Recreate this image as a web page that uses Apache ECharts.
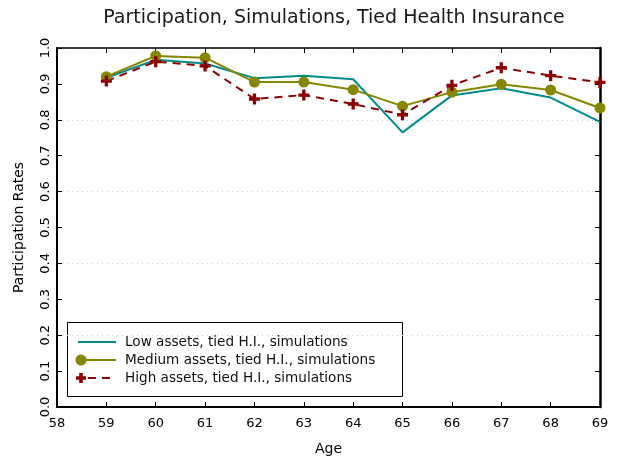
<!DOCTYPE html>
<html><head><meta charset="utf-8">
<script src="https://cdn.jsdelivr.net/npm/echarts@6/dist/echarts.min.js"></script>
<style>html,body{margin:0;padding:0;background:#fff}#c{width:618px;height:461px}</style>
</head><body><div id="c"></div>
<script>
var ages = [59,60,61,62,63,64,65,66,67,68,69];
var lowAssets = [0.917,0.967,0.957,0.916,0.923,0.913,0.765,0.868,0.888,0.862,0.794];
var mediumAssets = [0.920,0.978,0.973,0.905,0.905,0.884,0.838,0.877,0.899,0.883,0.833];
var highAssets = [0.908,0.962,0.950,0.858,0.869,0.844,0.814,0.896,0.945,0.923,0.904];
var seriesNames = ['Low assets, tied H.I., simulations','Medium assets, tied H.I., simulations','High assets, tied H.I., simulations'];
var titleText = 'Participation, Simulations, Tied Health Insurance';
var xName = 'Age', yName = 'Participation Rates';

function pairs(v){ return ages.map(function(a,i){return [a,v[i]];}); }
var FONT = 'DejaVu Sans';
var COLORS = ['#008c8c','#868600','#8b0000'];
var plus = 'path://M3.5,0H6.5V3.5H10V6.5H6.5V10H3.5V6.5H0V3.5H3.5Z';
var chart = echarts.init(document.getElementById('c'), null, {renderer:'canvas'});
var axisLine = {show:true, onZero:false, lineStyle:{color:'#000', width:2}};
var tick = {show:true, inside:true, length:5, lineStyle:{color:'#000'}};

// legend drawn as a framed key
var LX = 67, LY = 322, LW = 335, LH = 74, rowY = [342,360,378];
var px = 81, py = rowY[2];
var legendEls = [
  {type:'rect', shape:{x:LX+0.5, y:LY+0.5, width:LW, height:LH}, style:{fill:'#fff', stroke:'#000', lineWidth:1}},
  {type:'line', shape:{x1:78, y1:rowY[0], x2:116, y2:rowY[0]}, style:{stroke:COLORS[0], lineWidth:2}},
  {type:'line', shape:{x1:81, y1:rowY[1], x2:116, y2:rowY[1]}, style:{stroke:COLORS[1], lineWidth:2}},
  {type:'circle', shape:{cx:81, cy:rowY[1], r:5.5}, style:{fill:COLORS[1]}},
  {type:'line', shape:{x1:88, y1:rowY[2], x2:116, y2:rowY[2]}, style:{stroke:COLORS[2], lineWidth:2, lineDash:[8,6]}},
  {type:'polygon', shape:{points:[[px-1.8,py-5],[px+1.8,py-5],[px+1.8,py-1.8],[px+5,py-1.8],[px+5,py+1.8],[px+1.8,py+1.8],[px+1.8,py+5],[px-1.8,py+5],[px-1.8,py+1.8],[px-5,py+1.8],[px-5,py-1.8],[px-1.8,py-1.8]]}, style:{fill:COLORS[2]}}
];
seriesNames.forEach(function(n,i){
  legendEls.push({type:'text', x:125, y:rowY[i], style:{text:n, fill:'#111', fontFamily:FONT, fontSize:13.6, verticalAlign:'middle'}});
});

chart.setOption({
  animation:false,
  backgroundColor:'#fff',
  title:{text:titleText, left:329, textAlign:'center', top:4, textStyle:{fontFamily:FONT, fontSize:19, fontWeight:'normal', color:'#1a1a1a'}},
  grid:{left:57, right:18, top:48, bottom:54, containLabel:false},
  xAxis:[{
    type:'value', min:58, max:69, interval:1, position:'bottom',
    name:xName, nameLocation:'middle', nameGap:35, nameTextStyle:{fontFamily:FONT, fontSize:14, color:'#000'},
    axisLine:axisLine, axisTick:tick,
    axisLabel:{fontFamily:FONT, fontSize:13, color:'#000', margin:10},
    splitLine:{show:false}
  },{
    type:'value', min:58, max:69, interval:1, position:'top',
    axisLine:{show:true, onZero:false, lineStyle:{color:'#000', width:1.5}}, axisTick:tick,
    axisLabel:{show:false}, splitLine:{show:false}
  }],
  yAxis:[{
    type:'value', min:0, max:1, interval:0.1, position:'left',
    name:yName, nameLocation:'middle', nameGap:31, nameTextStyle:{fontFamily:FONT, fontSize:14, color:'#000'},
    axisLine:axisLine, axisTick:tick,
    axisLabel:{fontFamily:FONT, fontSize:13, color:'#000', rotate:90, margin:5, formatter:function(v){return v.toFixed(1);}},
    splitLine:{show:false}
  },{
    type:'value', min:0, max:1, interval:0.1, position:'right',
    axisLine:{show:true, onZero:false, lineStyle:{color:'#000', width:2.5}}, axisTick:tick,
    axisLabel:{show:false}, splitLine:{show:false}
  },{
    type:'value', min:0, max:1, interval:0.2, position:'left',
    axisLine:{show:false}, axisTick:{show:false}, axisLabel:{show:false},
    splitLine:{show:true, lineStyle:{color:'#c8c8c8', type:[1,4], width:1}}
  }],
  series:[
    {name:seriesNames[0], type:'line', data:pairs(lowAssets), symbol:'none', color:COLORS[0], lineStyle:{width:2}},
    {name:seriesNames[1], type:'line', data:pairs(mediumAssets), symbol:'circle', symbolSize:11, color:COLORS[1], lineStyle:{width:2}},
    {name:seriesNames[2], type:'line', data:pairs(highAssets), symbol:plus, symbolSize:11, color:COLORS[2], lineStyle:{width:2, type:[8,6]}}
  ],
  graphic:legendEls
});
</script></body></html>
